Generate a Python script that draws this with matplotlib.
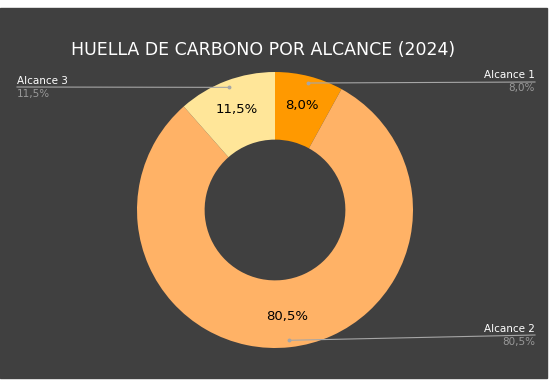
import numpy as np
import matplotlib.pyplot as plt
from matplotlib.patches import Rectangle

labels = ["Alcance 1", "Alcance 2", "Alcance 3"]
values = [8.0, 80.5, 11.5]
colors = ["#FF9900", "#FFB266", "#FFE699"]
title = "HUELLA DE CARBONO POR ALCANCE (2024)"


def fmt(p):
    return f"{p:.1f}".replace(".", ",") + "%"


def main():
    W, H = 550, 387
    fig = plt.figure(figsize=(W / 100, H / 100), dpi=100)
    fig.patch.set_facecolor("white")
    ax = fig.add_axes([0, 0, 1, 1])
    ax.set_xlim(0, W)
    ax.set_ylim(0, H)
    ax.axis("off")

    # dark panel
    ax.add_patch(Rectangle((0, H - 378), 547, 370, color="#404040", zorder=0))

    cx, cy, R = 275, H - 210, 138
    wedges, texts, autotexts = ax.pie(values, colors=colors, startangle=90, counterclock=False,
                                      radius=R, center=(cx, cy), autopct=fmt, pctdistance=0.78,
                                      wedgeprops=dict(width=R * 0.49, linewidth=0),
                                      textprops=dict(fontsize=9.5, color="black"))
    ax.set_xlim(0, W)
    ax.set_ylim(0, H)

    ax.text(263, H - 50, title, ha="center", va="center", color="white", fontsize=12.5)

    # leader lines: (line end x, line end y in pixels, alignment)
    ends = {"Alcance 1": (535, 82, "right"), "Alcance 2": (535, 335, "right"), "Alcance 3": (17, 87, "left")}
    for w, lab, v in zip(wedges, labels, values):
        ang = np.deg2rad((w.theta1 + w.theta2) / 2)
        px, py = cx + 0.95 * R * np.cos(ang), cy + 0.95 * R * np.sin(ang)
        ex, ey, al = ends[lab]
        ey = H - ey
        ax.plot([px, ex], [py, ey], color="#a6a6a6", lw=0.8, zorder=5)
        ax.plot(px, py, "o", color="#a6a6a6", ms=1.8, zorder=5)
        ax.text(ex, ey + 1.5, lab, ha=al, va="bottom", color="white", fontsize=7.5)
        ax.text(ex, ey - 1.5, fmt(v), ha=al, va="top", color="#999999", fontsize=7.5)

    fig.savefig("out.png", dpi=100, facecolor=fig.get_facecolor())


if __name__ == "__main__":
    main()
